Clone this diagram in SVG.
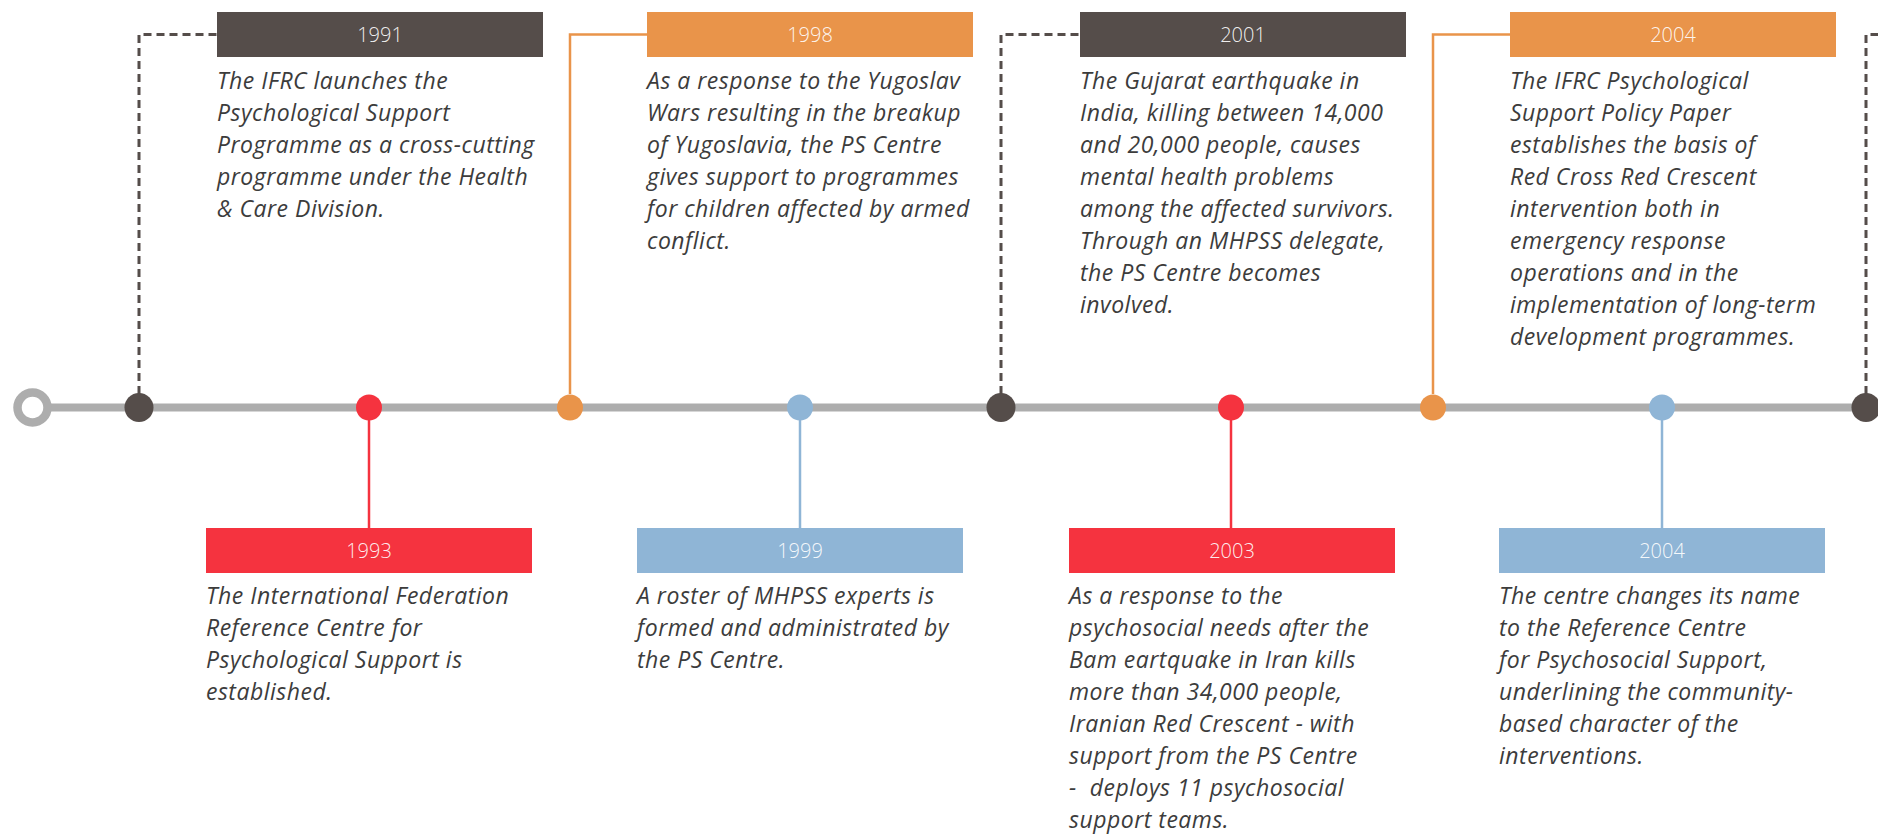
<svg xmlns="http://www.w3.org/2000/svg" width="1878" height="834" viewBox="0 0 1878 834">
<style>
.desc{font-family:"Open Sans","Liberation Sans",sans-serif;font-style:italic;font-size:23px;letter-spacing:0.5px;fill:#3c3c3c}
.yr{font-family:"Open Sans","Liberation Sans",sans-serif;font-weight:300;font-size:20px;fill:#ffffff;fill-opacity:0.92;text-anchor:middle}
.dk{fill:#554D4A}.or{fill:#E9944A}.rd{fill:#F5333F}.bl{fill:#8FB5D6}
.cdk{fill:none;stroke:#554D4A;stroke-width:3;stroke-dasharray:8 5}
.cor{fill:none;stroke:#E9944A;stroke-width:2.5}
.crd{fill:none;stroke:#F5333F;stroke-width:2.5}
.cbl{fill:none;stroke:#8FB5D6;stroke-width:2.5}
</style>
<rect width="1878" height="834" fill="#ffffff"/>
<g id="timeline">
<line x1="32" y1="407.5" x2="1878" y2="407.5" stroke="#ADADAD" stroke-width="8"/>
<circle cx="32.5" cy="407.5" r="15" fill="#ffffff" stroke="#ADADAD" stroke-width="8.5"/>
</g>
<g id="connectors">
<path class="cdk" d="M139 394 V34.5 H217"/>
<path class="cor" d="M570 394 V34.5 H647"/>
<path class="cdk" d="M1001 394 V34.5 H1080"/>
<path class="cor" d="M1433 394 V34.5 H1510"/>
<path class="cdk" d="M1866 394 V34.5 H1878"/>
<path class="crd" d="M369 420 V528"/>
<path class="cbl" d="M800 420 V528"/>
<path class="crd" d="M1231 420 V528"/>
<path class="cbl" d="M1662 420 V528"/>
</g>
<g id="n1991">
<circle class="dk" cx="139" cy="407.5" r="14.5"/>
<rect class="dk" x="217" y="12" width="326" height="45"/>
<text class="yr" x="380" y="42">1991</text>
<text class="desc" x="217" y="89"><tspan x="217">The IFRC launches the</tspan><tspan x="217" dy="32">Psychological Support</tspan><tspan x="217" dy="32">Programme as a cross-cutting</tspan><tspan x="217" dy="32">programme under the Health</tspan><tspan x="217" dy="32">&amp; Care Division.</tspan></text>
</g>
<g id="n1993">
<circle class="rd" cx="369" cy="407.5" r="13"/>
<rect class="rd" x="206" y="528" width="326" height="45"/>
<text class="yr" x="369" y="557.5">1993</text>
<text class="desc" x="206" y="604"><tspan x="206">The International Federation</tspan><tspan x="206" dy="32">Reference Centre for</tspan><tspan x="206" dy="32">Psychological Support is</tspan><tspan x="206" dy="32">established.</tspan></text>
</g>
<g id="n1998">
<circle class="or" cx="570" cy="407.5" r="13"/>
<rect class="or" x="647" y="12" width="326" height="45"/>
<text class="yr" x="810" y="42">1998</text>
<text class="desc" x="647" y="89"><tspan x="647">As a response to the Yugoslav</tspan><tspan x="647" dy="32">Wars resulting in the breakup</tspan><tspan x="647" dy="32">of Yugoslavia, the PS Centre</tspan><tspan x="647" dy="32">gives support to programmes</tspan><tspan x="647" dy="32">for children affected by armed</tspan><tspan x="647" dy="32">conflict.</tspan></text>
</g>
<g id="n1999">
<circle class="bl" cx="800" cy="407.5" r="13"/>
<rect class="bl" x="637" y="528" width="326" height="45"/>
<text class="yr" x="800" y="557.5">1999</text>
<text class="desc" x="637" y="604"><tspan x="637">A roster of MHPSS experts is</tspan><tspan x="637" dy="32">formed and administrated by</tspan><tspan x="637" dy="32">the PS Centre.</tspan></text>
</g>
<g id="n2001">
<circle class="dk" cx="1001" cy="407.5" r="14.5"/>
<rect class="dk" x="1080" y="12" width="326" height="45"/>
<text class="yr" x="1243" y="42">2001</text>
<text class="desc" x="1080" y="89"><tspan x="1080">The Gujarat earthquake in</tspan><tspan x="1080" dy="32">India, killing between 14,000</tspan><tspan x="1080" dy="32">and 20,000 people, causes</tspan><tspan x="1080" dy="32">mental health problems</tspan><tspan x="1080" dy="32">among the affected survivors.</tspan><tspan x="1080" dy="32">Through an MHPSS delegate,</tspan><tspan x="1080" dy="32">the PS Centre becomes</tspan><tspan x="1080" dy="32">involved.</tspan></text>
</g>
<g id="n2003">
<circle class="rd" cx="1231" cy="407.5" r="13"/>
<rect class="rd" x="1069" y="528" width="326" height="45"/>
<text class="yr" x="1232" y="557.5">2003</text>
<text class="desc" x="1069" y="604" xml:space="preserve"><tspan x="1069">As a response to the</tspan><tspan x="1069" dy="32">psychosocial needs after the</tspan><tspan x="1069" dy="32">Bam eartquake in Iran kills</tspan><tspan x="1069" dy="32">more than 34,000 people,</tspan><tspan x="1069" dy="32">Iranian Red Crescent - with</tspan><tspan x="1069" dy="32">support from the PS Centre</tspan><tspan x="1069" dy="32">-  deploys 11 psychosocial</tspan><tspan x="1069" dy="32">support teams.</tspan></text>
</g>
<g id="n2004a">
<circle class="or" cx="1433" cy="407.5" r="13"/>
<rect class="or" x="1510" y="12" width="326" height="45"/>
<text class="yr" x="1673" y="42">2004</text>
<text class="desc" x="1510" y="89"><tspan x="1510">The IFRC Psychological</tspan><tspan x="1510" dy="32">Support Policy Paper</tspan><tspan x="1510" dy="32">establishes the basis of</tspan><tspan x="1510" dy="32">Red Cross Red Crescent</tspan><tspan x="1510" dy="32">intervention both in</tspan><tspan x="1510" dy="32">emergency response</tspan><tspan x="1510" dy="32">operations and in the</tspan><tspan x="1510" dy="32">implementation of long-term</tspan><tspan x="1510" dy="32">development programmes.</tspan></text>
</g>
<g id="n2004b">
<circle class="bl" cx="1662" cy="407.5" r="13"/>
<rect class="bl" x="1499" y="528" width="326" height="45"/>
<text class="yr" x="1662" y="557.5">2004</text>
<text class="desc" x="1499" y="604"><tspan x="1499">The centre changes its name</tspan><tspan x="1499" dy="32">to the Reference Centre</tspan><tspan x="1499" dy="32">for Psychosocial Support,</tspan><tspan x="1499" dy="32">underlining the community-</tspan><tspan x="1499" dy="32">based character of the</tspan><tspan x="1499" dy="32">interventions.</tspan></text>
</g>
<g id="n2005">
<circle class="dk" cx="1866" cy="407.5" r="14.5"/>
</g>
</svg>
